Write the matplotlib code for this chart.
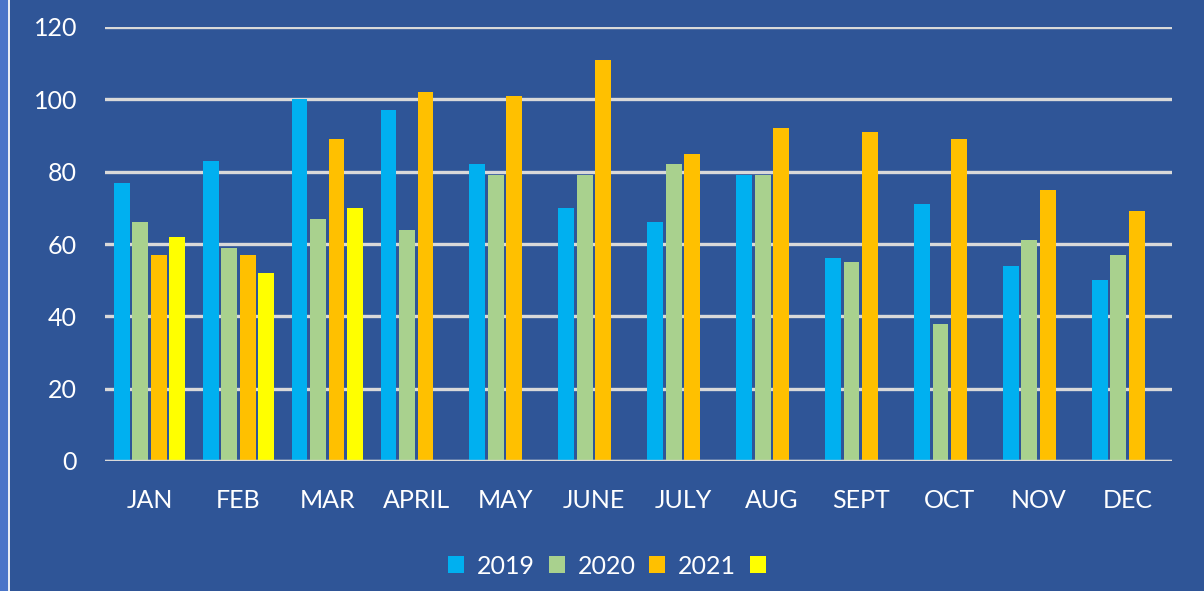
import numpy as np
import matplotlib.pyplot as plt
from matplotlib.patches import Rectangle

months = ["JAN", "FEB", "MAR", "APRIL", "MAY", "JUNE", "JULY", "AUG", "SEPT", "OCT", "NOV", "DEC"]
y2019 = [77, 83, 100, 97, 82, 70, 66, 79, 56, 71, 54, 50]
y2020 = [66, 59, 67, 64, 79, 79, 82, 79, 55, 38, 61, 57]
y2021 = [57, 57, 89, 102, 101, 111, 85, 92, 91, 89, 75, 69]
y2022 = [62, 52, 70, np.nan, np.nan, np.nan, np.nan, np.nan, np.nan, np.nan, np.nan, np.nan]

series = [("2019", y2019, "#00B0F0"),
          ("2020", y2020, "#A9D18E"),
          ("2021", y2021, "#FFC000"),
          ("", y2022, "#FFFF00")]

bg = "#2F5597"
grid_col = "#D9D9D9"

plt.rcParams['font.family'] = ['Lato', 'DejaVu Sans']

fig = plt.figure(figsize=(12.04, 5.91), dpi=100, facecolor=bg)
# lighter strip on the left edge
fig.patches.append(Rectangle((0, 0), 8 / 1204, 1, transform=fig.transFigure,
                             facecolor="#4A74C8", edgecolor="none", zorder=0))
fig.patches.append(Rectangle((8 / 1204, 0), 2 / 1204, 1, transform=fig.transFigure,
                             facecolor="#E8ECF4", edgecolor="none", zorder=0))

ax = fig.add_axes([105 / 1204, 1 - 461 / 591, (1172 - 105) / 1204, (461 - 27) / 591])
ax.set_facecolor(bg)

x = np.arange(len(months))
slot = 0.208
width = 0.178
for i, (name, vals, col) in enumerate(series):
    ax.bar(x + (i - 1.5) * slot, vals, width, color=col, label=name if name else " ", zorder=3)

ax.set_xlim(-0.5, len(months) - 0.5)
ax.set_ylim(0, 120)
ax.set_yticks(range(0, 121, 20))
ax.set_xticks(x)
ax.set_xticklabels(months)
ax.yaxis.grid(True, color=grid_col, linewidth=2.4, zorder=1)
ax.axhline(0, color=grid_col, linewidth=2.4, zorder=4)
for s in ax.spines.values():
    s.set_visible(False)
ax.tick_params(axis='both', length=0, colors="white", labelsize=18)
ax.tick_params(axis='x', pad=20)
ax.tick_params(axis='y', pad=20)

leg = fig.legend(loc="center", bbox_to_anchor=(0.512, 1 - 566 / 591), ncol=4, frameon=False,
                 fontsize=18, labelcolor="white", handlelength=0.65, handleheight=0.65,
                 handletextpad=0.5, columnspacing=0.55)

fig.savefig("out.png", dpi=100, facecolor=bg)
